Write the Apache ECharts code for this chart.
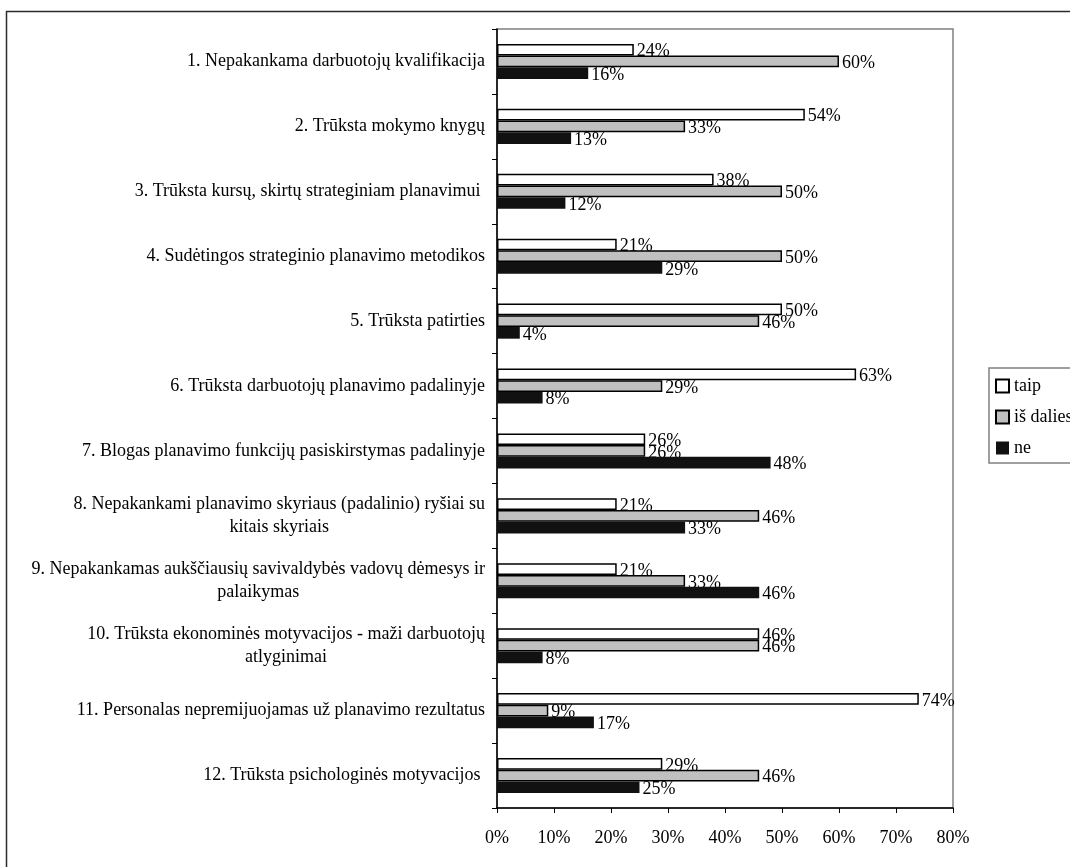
<!DOCTYPE html>
<html>
<head>
<meta charset="utf-8">
<script src="https://cdn.jsdelivr.net/npm/echarts@6/dist/echarts.min.js"></script>
<style>
  html, body { margin: 0; padding: 0; background: #fff; }
  #chart { width: 1070px; height: 867px; }
</style>
</head>
<body>
<div id="chart"></div>
<script>
// Survey: obstacles to strategic planning (share of answers per option)
const categories = [
  '1. Nepakankama darbuotojų kvalifikacija',
  '2. Trūksta mokymo knygų',
  '3. Trūksta kursų, skirtų strateginiam planavimui ',
  '4. Sudėtingos strateginio planavimo metodikos',
  '5. Trūksta patirties',
  '6. Trūksta darbuotojų planavimo padalinyje',
  '7. Blogas planavimo funkcijų pasiskirstymas padalinyje',
  '8. Nepakankami planavimo skyriaus (padalinio) ryšiai su\nkitais skyriais',
  '9. Nepakankamas aukščiausių savivaldybės vadovų dėmesys ir\npalaikymas',
  '10. Trūksta ekonominės motyvacijos - maži darbuotojų\natlyginimai',
  '11. Personalas nepremijuojamas už planavimo rezultatus',
  '12. Trūksta psichologinės motyvacijos '
];
const seriesNames = ['taip', 'iš dalies', 'ne'];
const taip      = [24, 54, 38, 21, 50, 63, 26, 21, 21, 46, 74, 29];
const isDalies  = [60, 33, 50, 50, 46, 29, 26, 46, 33, 46,  9, 46];
const ne        = [16, 13, 12, 29,  4,  8, 48, 33, 46,  8, 17, 25];
const xTicks = { min: 0, max: 80, interval: 10 };

const FONT = '"Liberation Serif", "Times New Roman", serif';
const TEXT = '#000';

const barStyles = [
  { color: '#ffffff', borderColor: '#000', borderWidth: 1.5 },
  { color: '#c0c0c0', borderColor: '#000', borderWidth: 1.5 },
  { color: '#111111', borderColor: '#111111', borderWidth: 0 }
];
const values = [taip, isDalies, ne];

const BAR_W = 11.7;

// Visible bars (drawn above the value labels)
const barSeries = values.map((data, i) => ({
  name: seriesNames[i],
  type: 'bar',
  yAxisIndex: 0,
  data: data,
  barWidth: BAR_W,
  barGap: '0%',
  z: 3,
  itemStyle: barStyles[i],
  label: { show: false }
}));

// Value labels, laid out on a twin axis so bars can overlap them
const labelSeries = values.map((data, i) => ({
  name: 'lbl' + i,
  type: 'bar',
  yAxisIndex: 1,
  data: data,
  barWidth: BAR_W,
  barGap: '0%',
  z: 2,
  silent: true,
  itemStyle: { color: 'rgba(0,0,0,0)', borderWidth: 0 },
  label: {
    show: true,
    position: 'right',
    distance: 3,
    offset: [0, 2],
    formatter: '{c}%',
    fontFamily: FONT,
    fontSize: 18,
    color: TEXT
  }
}));

const chart = echarts.init(document.getElementById('chart'), null, { renderer: 'canvas' });

chart.setOption({
  animation: false,
  backgroundColor: '#fff',
  graphic: [{
    type: 'rect',
    silent: true,
    z: -10,
    shape: { x: 6.5, y: 11.5, width: 1100, height: 900 },
    style: { fill: 'none', stroke: '#2b2b2b', lineWidth: 1.5 }
  }],
  grid: {
    left: 497, right: 117, top: 29, bottom: 59,
    show: true,
    borderColor: '#808080',
    borderWidth: 1.5,
    containLabel: false
  },
  legend: {
    data: seriesNames,
    orient: 'vertical',
    left: 989,
    top: 368,
    padding: [9, 30, 6, 6],
    itemWidth: 13,
    itemHeight: 13,
    itemGap: 13,
    itemTextGap: 5,
    icon: 'rect',
    borderColor: '#808080',
    borderWidth: 1.5,
    textStyle: { fontFamily: FONT, fontSize: 18, color: TEXT }
  },
  xAxis: {
    type: 'value',
    min: xTicks.min,
    max: xTicks.max,
    interval: xTicks.interval,
    splitLine: { show: false },
    axisLine: { show: true, lineStyle: { color: '#000', width: 1.5 } },
    axisTick: { show: true, length: 5, lineStyle: { color: '#000', width: 1 } },
    axisLabel: {
      formatter: '{value}%',
      margin: 21,
      fontFamily: FONT,
      fontSize: 18,
      color: TEXT
    }
  },
  yAxis: [{
    type: 'category',
    inverse: true,
    data: categories,
    axisLine: { show: true, lineStyle: { color: '#000', width: 1.5 } },
    axisTick: { show: true, length: 5, lineStyle: { color: '#000', width: 1 } },
    axisLabel: {
      margin: 12,
      fontFamily: FONT,
      fontSize: 18,
      color: TEXT,
      lineHeight: 23,
      formatter: function (v) {
        const lines = v.split('\n');
        if (lines.length === 1) return v;
        return lines.map(l => '{c|' + l + '}').join('\n');
      },
      rich: {
        c: { align: 'center', fontFamily: FONT, fontSize: 18, color: TEXT, lineHeight: 23 }
      }
    }
  }, {
    type: 'category',
    inverse: true,
    data: categories,
    show: false
  }],
  series: barSeries.concat(labelSeries)
});
</script>
</body>
</html>
